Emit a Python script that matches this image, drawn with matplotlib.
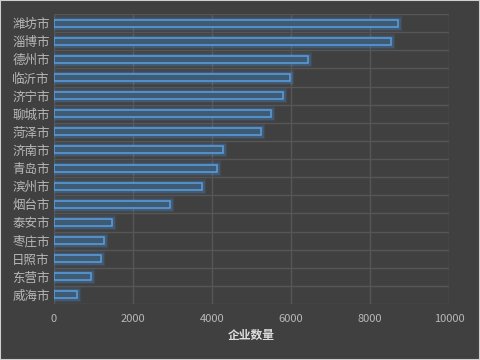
import matplotlib.pyplot as plt
import matplotlib.patheffects as pe
import numpy as np

plt.rcParams['font.family'] = ['Noto Sans CJK SC', 'DejaVu Sans']

cities = ['潍坊市', '淄博市', '德州市', '临沂市', '济宁市', '聊城市', '菏泽市', '济南市',
          '青岛市', '滨州市', '烟台市', '泰安市', '枣庄市', '日照市', '东营市', '威海市']
counts = [8720, 8530, 6440, 5970, 5810, 5490, 5230, 4270,
          4120, 3740, 2930, 1480, 1260, 1180, 930, 570]
xticks = [0, 2000, 4000, 6000, 8000, 10000]

bg = '#404040'
fig = plt.figure(figsize=(4.8, 3.6), dpi=100, facecolor=bg)
ax = fig.add_axes([54/480, 1-304/360, 395/480, 290/360])
ax.set_facecolor(bg)

y = np.arange(len(cities))
bars = ax.barh(y, counts, height=0.38, color='#3f5a73', edgecolor='#5a9fe0', linewidth=1.1, zorder=3)
for b in bars:
    b.set_path_effects([
        pe.Stroke(linewidth=6, foreground='#4a8fd6', alpha=0.12),
        pe.Stroke(linewidth=3.5, foreground='#4a8fd6', alpha=0.25),
        pe.Normal()])

ax.set_xlim(0, 10000)
ax.set_ylim(len(cities) - 0.5, -0.5)
ax.set_xticks(xticks)
ax.set_yticks(y)
ax.set_yticklabels(cities)
ax.set_yticks(np.arange(-0.5, len(cities), 1), minor=True)
ax.grid(axis='x', color='#565656', linewidth=1, zorder=0)
ax.grid(axis='y', which='minor', color='#565656', linewidth=1, zorder=0)
ax.tick_params(axis='both', which='both', length=0)
ax.tick_params(axis='y', labelsize=9, labelcolor='#b8b8b8', pad=3)
ax.tick_params(axis='x', labelsize=8, labelcolor='#b8b8b8', pad=7)
for s in ax.spines.values():
    s.set_visible(False)
ax.set_xlabel('企业数量', fontsize=8.5, color='#dddddd', fontweight='bold', labelpad=4)

fig.patches.append(plt.Rectangle((0, 0), 1, 1, transform=fig.transFigure, fill=False,
                                 edgecolor='#cfcfcf', linewidth=1.5))
fig.savefig('out.png', dpi=100, facecolor=bg)
